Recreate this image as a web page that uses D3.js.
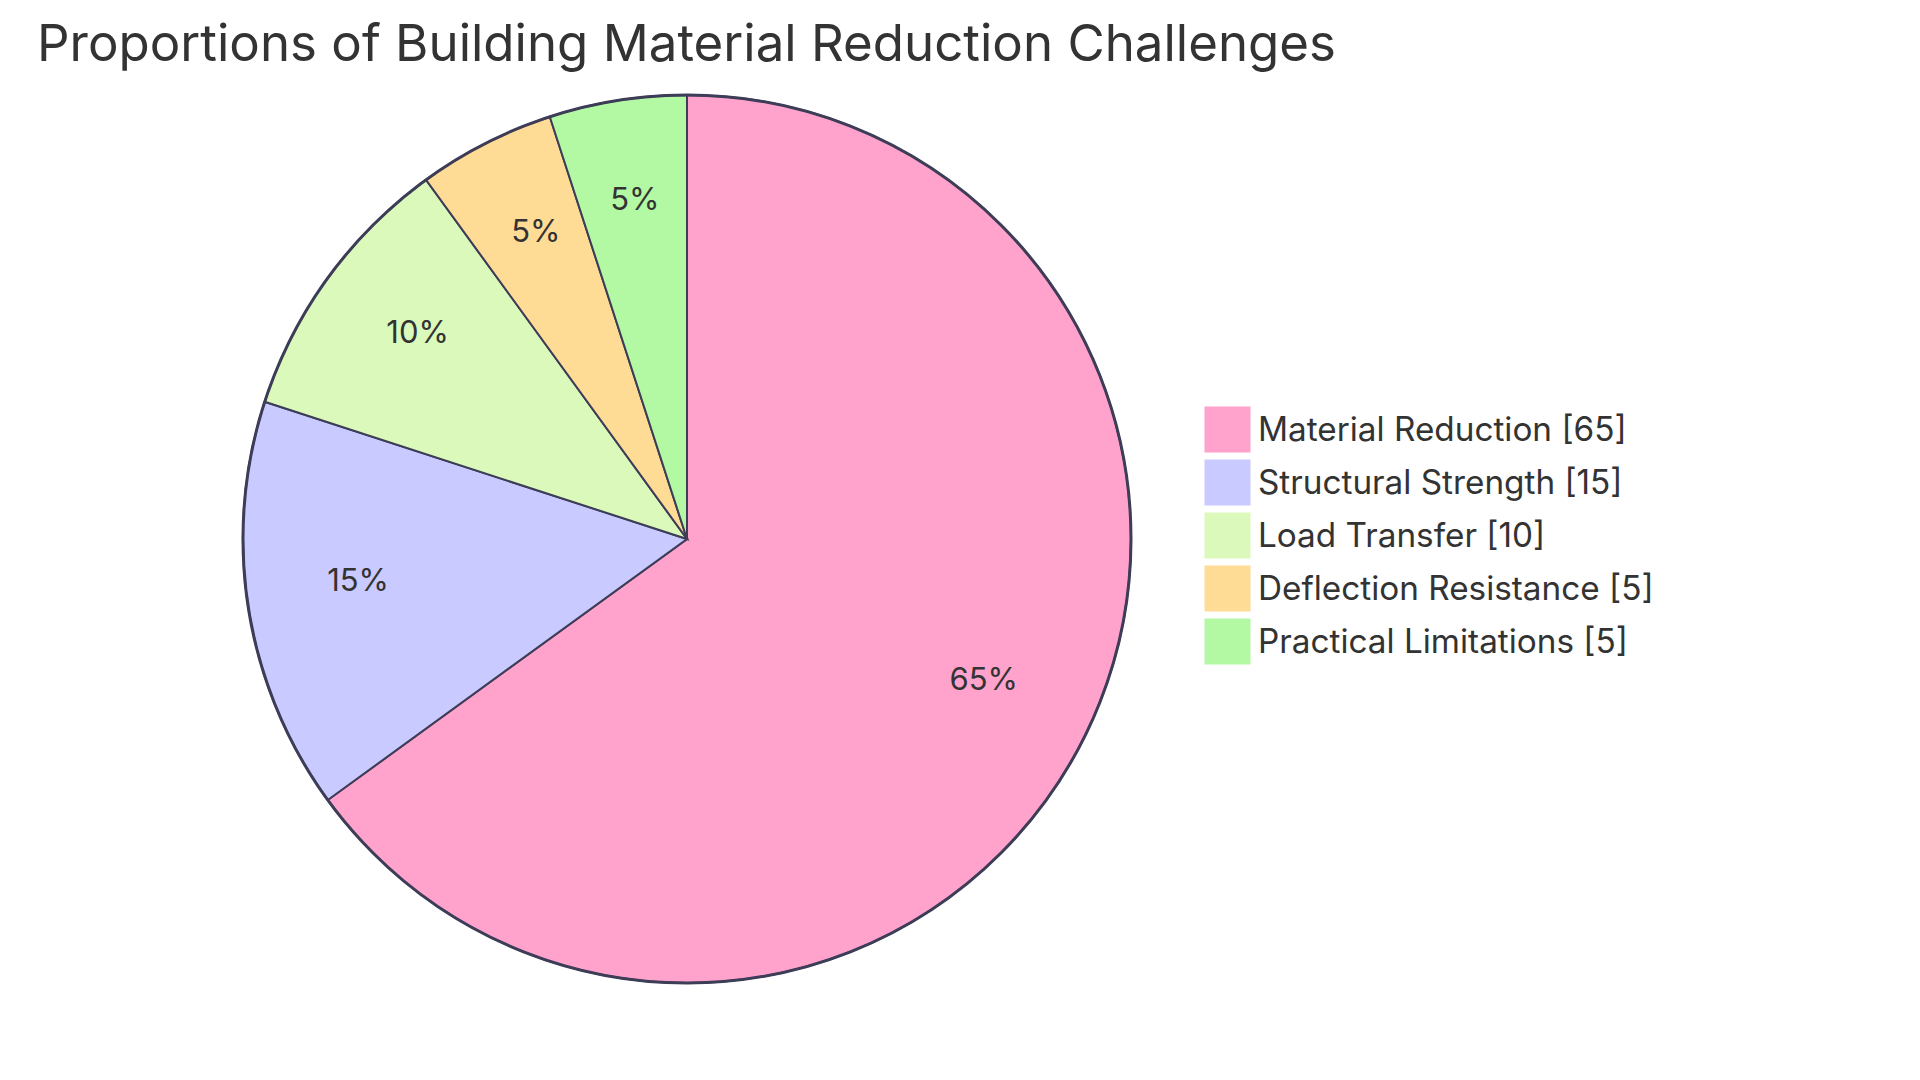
<!DOCTYPE html>
<html><head><meta charset="utf-8">
<script src="https://cdn.jsdelivr.net/npm/d3@7"></script>
<style>body{margin:0;background:#fff;font-family:Inter,"Open Sans",sans-serif;}</style>
</head><body>
<svg id="c" width="1920" height="1080"></svg>
<script>
const categories = ["Material Reduction","Structural Strength","Load Transfer","Deflection Resistance","Practical Limitations"];
const values = [65,15,10,5,5];
const colors = ["#FFA2CC","#C9CAFF","#DAF9BA","#FFDC95","#B3F8A3"];
const title = "Proportions of Building Material Reduction Challenges";

const svg = d3.select("#c");
const cx = 687, cy = 539, R = 444;
const stroke = "#3d3d58";
const textCol = "#333333";

svg.append("text").attr("x", 37).attr("y", 61).attr("font-size", 51).attr("fill", textCol)
  .attr("font-family","Inter, sans-serif").text(title);

const data = categories.map((c,i)=>({c, v: values[i], col: colors[i]}));
const pie = d3.pie().value(d=>d.v).sort(null);
const arcs = pie(data);
const arc = d3.arc().innerRadius(0).outerRadius(R);
const labelArc = d3.arc().innerRadius(R*0.75).outerRadius(R*0.75);
const total = d3.sum(values);
const g = svg.append("g").attr("transform", `translate(${cx},${cy})`);
g.selectAll("path").data(arcs).join("path").attr("d", arc).attr("fill", d=>d.data.col)
  .attr("stroke", stroke).attr("stroke-width", 2);
g.append("circle").attr("r", R).attr("fill","none").attr("stroke", stroke).attr("stroke-width", 3);
g.selectAll("text.l").data(arcs).join("text").attr("class","l")
  .attr("transform", d=>`translate(${labelArc.centroid(d)})`)
  .attr("text-anchor","middle").attr("font-size", 31).attr("fill", textCol)
  .text(d=>Math.round(d.data.v/total*100)+"%");

const leg = svg.append("g").attr("transform","translate(1205,407)");
const rows = leg.selectAll("g").data(data).join("g").attr("transform",(d,i)=>`translate(0,${i*53})`);
rows.append("rect").attr("width",45).attr("height",45).attr("fill",d=>d.col).attr("stroke",d=>d.col);
rows.append("text").attr("x",53).attr("y",22.5).attr("dy","0.36em").attr("font-size",33.3).attr("fill",textCol)
  .text(d=>`${d.c} [${d.v}]`);
</script>
</body></html>
